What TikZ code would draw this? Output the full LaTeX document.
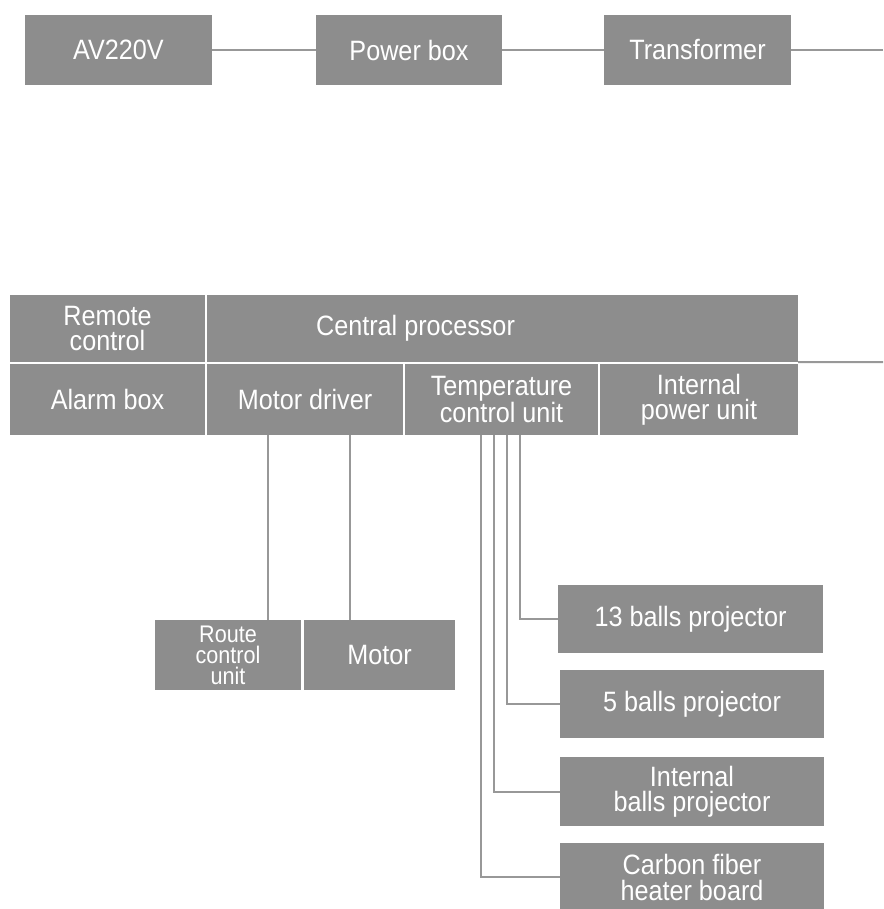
\documentclass[tikz,border=0pt]{standalone}
\usepackage{fontspec}
\setmainfont[FakeStretch=0.9]{Liberation Sans}
\usetikzlibrary{positioning,calc}
\definecolor{boxgray}{RGB}{141,141,141}
\definecolor{linegray}{RGB}{152,152,152}
\tikzset{
  blk/.style={fill=boxgray, text=white, inner sep=0pt, align=center,
    minimum height=70pt, font=\fontsize{28}{25}\selectfont},
  wire/.style={draw=linegray, line width=2pt}
}
\begin{document}
\begin{tikzpicture}[x=1pt,y=-1pt]
\path[use as bounding box, fill=white] (0,0) rectangle (883,909);
% supply chain
\node[blk, minimum width=187pt] (av) at (118.5,50) {AV220V};
\node[blk, minimum width=186pt] (pbox) at (409,50) {Power box};
\node[blk, minimum width=187pt] (trans) at (697.5,50) {Transformer};
\coordinate (outtop) at (883,50);
\draw[wire] (av) -- (pbox);
\draw[wire] (pbox) -- (trans);
\draw[wire] (trans) -- (outtop);
% main unit
\node[blk, minimum width=195pt, minimum height=67pt] (remote) at (107.5,328.5) {Remote\\control};
\node[blk, minimum width=591pt, minimum height=67pt,
  label={[text=white, font=\fontsize{28}{25}\selectfont, xshift=-87pt]center:Central processor}] (cpu) at (502.5,328.5) {};
\node[blk, minimum width=195pt, minimum height=71pt] (alarm) at (107.5,399.5) {Alarm box};
\node[blk, minimum width=196pt, minimum height=71pt] (mdrv) at (305,399.5) {Motor driver};
\node[blk, minimum width=193pt, minimum height=71pt] (tcu) at (501.5,399.5) {Temperature\\control unit};
\node[blk, minimum width=198pt, minimum height=71pt] (ipu) at (699,399.5) {Internal\\power unit};
\coordinate (outmid) at (883,362);
\draw[wire] (cpu.south east) -- (outmid);
% motor side
\node[blk, minimum width=146pt, font=\fontsize{24}{21}\selectfont] (route) at (228,655) {Route\\control\\unit};
\node[blk, minimum width=151pt] (motor) at (379.5,655) {Motor};
\draw[wire] ([xshift=40pt]route.north) -- ([xshift=40pt]route.north |- mdrv.south);
\draw[wire] ([xshift=-29.5pt]motor.north) -- ([xshift=-29.5pt]motor.north |- mdrv.south);
% heating side
\node[blk, minimum width=265pt, minimum height=68pt] (proj13) at (690.5,619) {13 balls projector};
\node[blk, minimum width=264pt, minimum height=68pt] (proj5) at (692,704) {5 balls projector};
\node[blk, minimum width=264pt, minimum height=69pt] (projin) at (692,791.5) {Internal\\balls projector};
\node[blk, minimum width=264pt, minimum height=68pt, font=\fontsize{28}{26}\selectfont] (heater) at (692,877) {Carbon fiber\\heater board};
\draw[wire] ([xshift=18.5pt]tcu.south) |- (proj13.west);
\draw[wire] ([xshift=5.5pt]tcu.south) |- (proj5.west);
\draw[wire] ([xshift=-7.5pt]tcu.south) |- (projin.west);
\draw[wire] ([xshift=-20.5pt]tcu.south) |- (heater.west);
\end{tikzpicture}
\end{document}
